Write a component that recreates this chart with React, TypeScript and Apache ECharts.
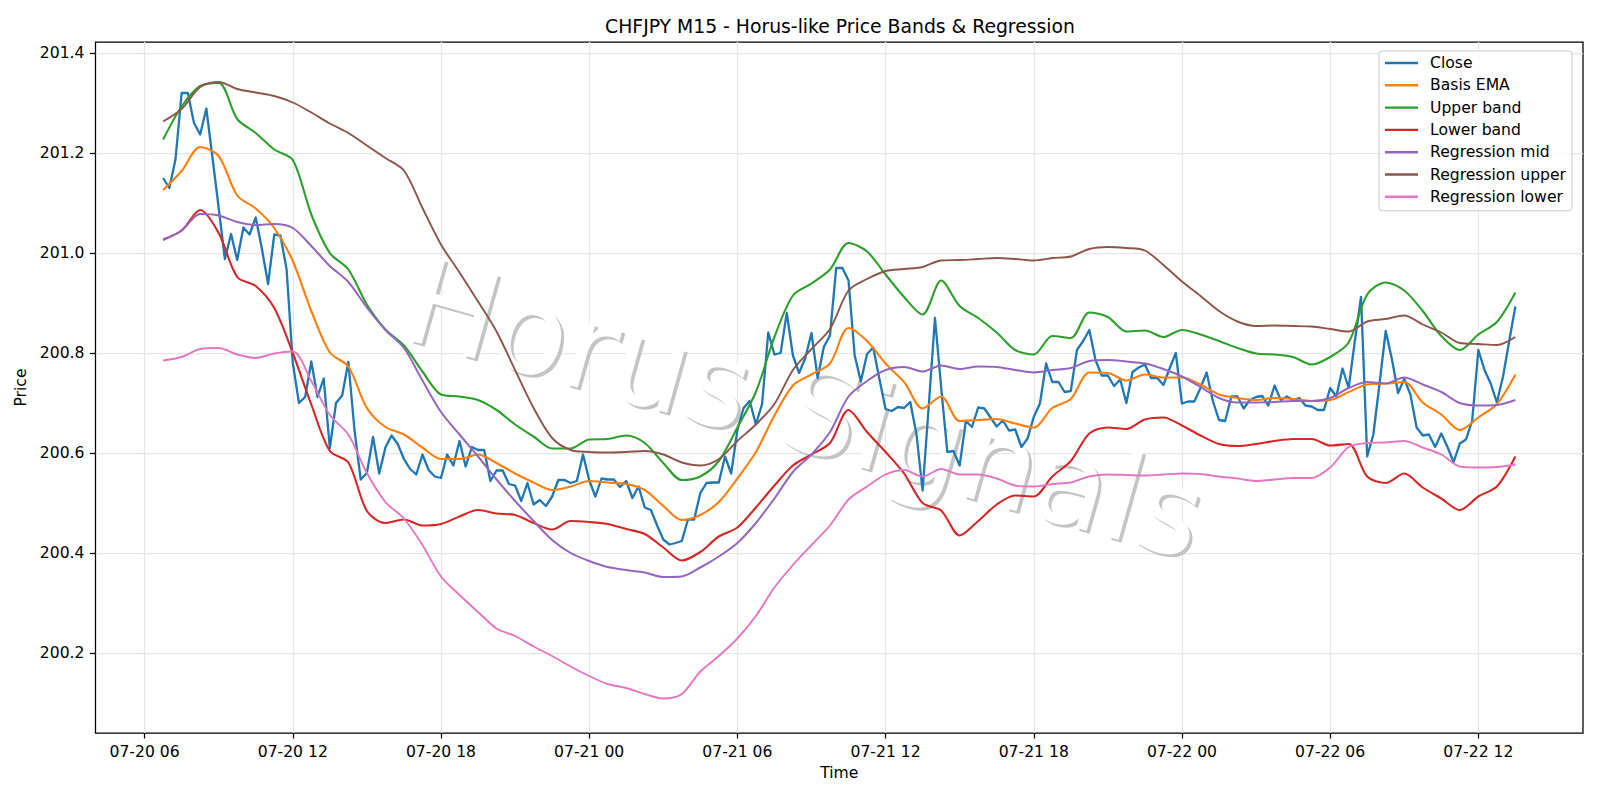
import { useEffect, useRef } from "react";
import * as echarts from "echarts";

const TITLE = "CHFJPY M15 - Horus-like Price Bands & Regression";
const WATERMARK = "Horus Signals";

// First M15 bar and sampling steps (minutes)
const FIRST_BAR = Date.UTC(2025, 6, 20, 6, 45);
const CLOSE_STEP_MIN = 15;
const BAND_STEP_MIN = 45;

// Close prices, one per 15-minute bar
const closeValues = [
  201.150, 201.130, 201.187, 201.320, 201.320, 201.260, 201.237, 201.289, 201.190, 201.090,
  200.988, 201.038, 200.986, 201.051, 201.037, 201.071, 201.008, 200.938, 201.037, 201.035,
  200.967, 200.780, 200.700, 200.712, 200.783, 200.712, 200.749, 200.610, 200.700, 200.715,
  200.782, 200.645, 200.547, 200.560, 200.632, 200.559, 200.611, 200.635, 200.618, 200.588,
  200.568, 200.557, 200.597, 200.566, 200.553, 200.550, 200.597, 200.575, 200.624, 200.573,
  200.612, 200.606, 200.606, 200.544, 200.565, 200.565, 200.538, 200.535, 200.504, 200.540,
  200.497, 200.506, 200.494, 200.513, 200.546, 200.546, 200.540, 200.544, 200.597, 200.546,
  200.513, 200.549, 200.547, 200.547, 200.532, 200.544, 200.510, 200.533, 200.491, 200.486,
  200.455, 200.427, 200.417, 200.420, 200.424, 200.467, 200.467, 200.520, 200.540, 200.541,
  200.541, 200.593, 200.559, 200.646, 200.690, 200.704, 200.657, 200.698, 200.841, 200.797,
  200.800, 200.880, 200.795, 200.760, 200.790, 200.840, 200.750, 200.812, 200.835, 200.970,
  200.970, 200.945, 200.795, 200.743, 200.798, 200.811, 200.748, 200.688, 200.684, 200.692,
  200.690, 200.702, 200.638, 200.525, 200.695, 200.870, 200.732, 200.602, 200.604, 200.575,
  200.664, 200.652, 200.691, 200.689, 200.671, 200.653, 200.665, 200.645, 200.647, 200.612,
  200.629, 200.672, 200.699, 200.779, 200.742, 200.742, 200.722, 200.724, 200.806, 200.824,
  200.846, 200.786, 200.755, 200.755, 200.734, 200.747, 200.700, 200.762, 200.771, 200.777,
  200.750, 200.750, 200.736, 200.769, 200.800, 200.699, 200.703, 200.703, 200.730, 200.761,
  200.704, 200.666, 200.664, 200.713, 200.713, 200.689, 200.706, 200.712, 200.714, 200.695,
  200.735, 200.706, 200.713, 200.706, 200.710, 200.695, 200.693, 200.686, 200.686, 200.730,
  200.713, 200.769, 200.730, 200.824, 200.912, 200.593, 200.637, 200.739, 200.844, 200.788,
  200.720, 200.748, 200.717, 200.651, 200.635, 200.637, 200.612, 200.639, 200.612, 200.582,
  200.619, 200.627, 200.664, 200.806, 200.766, 200.739, 200.701, 200.753, 200.824, 200.893,
];

// Indicator lines, one value every 45 minutes
const basisEma = [
  201.126, 201.164, 201.212, 201.194, 201.115, 201.089, 201.050, 200.984, 200.884, 200.801,
  200.773, 200.690, 200.652, 200.637, 200.611, 200.588, 200.588, 200.597, 200.580, 200.559,
  200.541, 200.526, 200.533, 200.544, 200.541, 200.538, 200.526, 200.494, 200.466, 200.476,
  200.502, 200.549, 200.602, 200.675, 200.735, 200.757, 200.779, 200.850, 200.824, 200.779,
  200.742, 200.689, 200.713, 200.664, 200.666, 200.668, 200.659, 200.651, 200.690, 200.708,
  200.761, 200.760, 200.745, 200.757, 200.751, 200.751, 200.737, 200.717, 200.710, 200.706,
  200.710, 200.708, 200.704, 200.706, 200.722, 200.737, 200.739, 200.742, 200.701, 200.677,
  200.646, 200.671, 200.698, 200.757,
];

const upperBand = [
  201.227, 201.293, 201.334, 201.340, 201.268, 201.240, 201.207, 201.186, 201.077, 201.000,
  200.967, 200.897, 200.847, 200.815, 200.763, 200.717, 200.713, 200.706, 200.686, 200.657,
  200.633, 200.609, 200.609, 200.627, 200.628, 200.635, 200.620, 200.580, 200.546, 200.553,
  200.584, 200.651, 200.722, 200.832, 200.915, 200.939, 200.967, 201.020, 201.003, 200.957,
  200.912, 200.877, 200.945, 200.894, 200.870, 200.841, 200.806, 200.797, 200.834, 200.830,
  200.881, 200.872, 200.843, 200.845, 200.832, 200.846, 200.837, 200.824, 200.810, 200.799,
  200.797, 200.792, 200.777, 200.792, 200.821, 200.917, 200.941, 200.925, 200.884, 200.834,
  200.806, 200.837, 200.862, 200.921,
];

const lowerBand = [
  201.027, 201.045, 201.086, 201.040, 200.952, 200.934, 200.890, 200.800, 200.697, 200.604,
  200.581, 200.484, 200.460, 200.467, 200.455, 200.458, 200.473, 200.486, 200.479, 200.476,
  200.460, 200.447, 200.464, 200.462, 200.458, 200.448, 200.438, 200.411, 200.385, 200.402,
  200.433, 200.451, 200.491, 200.535, 200.575, 200.597, 200.620, 200.686, 200.642, 200.602,
  200.559, 200.500, 200.485, 200.435, 200.464, 200.497, 200.515, 200.513, 200.553, 200.584,
  200.639, 200.651, 200.648, 200.667, 200.671, 200.655, 200.635, 200.618, 200.614, 200.618,
  200.624, 200.628, 200.628, 200.615, 200.618, 200.553, 200.540, 200.559, 200.531, 200.509,
  200.486, 200.513, 200.533, 200.593,
];

const regressionMid = [
  201.026, 201.045, 201.078, 201.075, 201.062, 201.056, 201.058, 201.050, 201.014, 200.974,
  200.942, 200.891, 200.846, 200.810, 200.745, 200.682, 200.637, 200.593, 200.547, 200.504,
  200.464, 200.426, 200.400, 200.384, 200.372, 200.366, 200.361, 200.352, 200.353, 200.371,
  200.393, 200.420, 200.460, 200.509, 200.562, 200.597, 200.642, 200.713, 200.744, 200.766,
  200.772, 200.763, 200.775, 200.768, 200.773, 200.772, 200.766, 200.761, 200.766, 200.770,
  200.784, 200.786, 200.783, 200.779, 200.768, 200.753, 200.732, 200.710, 200.701, 200.701,
  200.702, 200.704, 200.704, 200.710, 200.730, 200.742, 200.739, 200.751, 200.737, 200.722,
  200.700, 200.695, 200.696, 200.706,
];

const regressionUpper = [
  201.263, 201.288, 201.332, 201.342, 201.328, 201.321, 201.314, 201.301, 201.281, 201.259,
  201.240, 201.215, 201.190, 201.165, 201.090, 201.017, 200.961, 200.903, 200.843, 200.766,
  200.690, 200.630, 200.606, 200.602, 200.601, 200.602, 200.604, 200.597, 200.581, 200.575,
  200.588, 200.624, 200.657, 200.698, 200.766, 200.808, 200.848, 200.925, 200.948, 200.964,
  200.968, 200.972, 200.985, 200.986, 200.988, 200.990, 200.988, 200.985, 200.990, 200.993,
  201.008, 201.012, 201.010, 201.005, 200.976, 200.943, 200.914, 200.884, 200.863, 200.854,
  200.855, 200.854, 200.853, 200.848, 200.843, 200.863, 200.868, 200.875, 200.857, 200.841,
  200.820, 200.818, 200.816, 200.832,
];

const regressionLower = [
  200.785, 200.792, 200.808, 200.810, 200.797, 200.790, 200.799, 200.803, 200.744, 200.676,
  200.637, 200.560, 200.502, 200.469, 200.416, 200.353, 200.316, 200.282, 200.249, 200.234,
  200.213, 200.194, 200.173, 200.154, 200.138, 200.130, 200.118, 200.109, 200.118, 200.163,
  200.194, 200.229, 200.274, 200.331, 200.376, 200.416, 200.455, 200.507, 200.533, 200.557,
  200.566, 200.553, 200.568, 200.557, 200.557, 200.549, 200.535, 200.533, 200.538, 200.541,
  200.553, 200.557, 200.556, 200.555, 200.557, 200.559, 200.558, 200.553, 200.549, 200.544,
  200.547, 200.550, 200.550, 200.571, 200.612, 200.620, 200.621, 200.624, 200.611, 200.597,
  200.573, 200.571, 200.572, 200.577,
];

// Axis ticks
const xTickLabels = [
  "07-20 06", "07-20 12", "07-20 18", "07-21 00", "07-21 06",
  "07-21 12", "07-21 18", "07-22 00", "07-22 06", "07-22 12",
];
const yTickLabels = ["200.2", "200.4", "200.6", "200.8", "201.0", "201.2", "201.4"];
const Y_MIN = 200.04;
const Y_MAX = 201.422;

const FONT = '"DejaVu Sans", Verdana, sans-serif';
const MINUTE = 60 * 1000;

const parseTick = (s: string) => {
  const [md, hh] = s.split(" ");
  const [mm, dd] = md.split("-").map(Number);
  return Date.UTC(2025, mm - 1, dd, Number(hh), 0);
};

const pad = (n: number) => String(n).padStart(2, "0");
const formatTime = (v: number) => {
  const d = new Date(v);
  return `${pad(d.getUTCMonth() + 1)}-${pad(d.getUTCDate())} ${pad(d.getUTCHours())}`;
};

const toSeries = (values: number[], stepMin: number) =>
  values.map((v, i) => [FIRST_BAR + i * stepMin * MINUTE, v]);

const SERIES = [
  { name: "Close", values: closeValues, step: CLOSE_STEP_MIN, color: "#1f77b4", width: 2.3, smooth: 0 },
  { name: "Basis EMA", values: basisEma, step: BAND_STEP_MIN, color: "#ff7f0e", width: 2.1, smooth: 0.3 },
  { name: "Upper band", values: upperBand, step: BAND_STEP_MIN, color: "#2ca02c", width: 2.1, smooth: 0.3 },
  { name: "Lower band", values: lowerBand, step: BAND_STEP_MIN, color: "#d62728", width: 2.1, smooth: 0.3 },
  { name: "Regression mid", values: regressionMid, step: BAND_STEP_MIN, color: "#9467bd", width: 2.0, smooth: 0.3 },
  { name: "Regression upper", values: regressionUpper, step: BAND_STEP_MIN, color: "#8c564b", width: 1.9, smooth: 0.3 },
  { name: "Regression lower", values: regressionLower, step: BAND_STEP_MIN, color: "#e377c2", width: 1.9, smooth: 0.3 },
];

export default function App() {
  const ref = useRef<HTMLDivElement>(null);

  useEffect(() => {
    if (!ref.current) return;
    const chart = echarts.init(ref.current, undefined, { renderer: "svg" });

    const lastBar = FIRST_BAR + (closeValues.length - 1) * CLOSE_STEP_MIN * MINUTE;
    const span = lastBar - FIRST_BAR;
    const xMin = FIRST_BAR - span * 0.05;
    const xMax = lastBar + span * 0.05;

    const xTicks = xTickLabels.map(parseTick);
    const yTicks = yTickLabels.map(Number);

    const axisFont = { fontFamily: FONT, fontSize: 15.6, color: "#000" };
    const gridLine = { show: true, lineStyle: { color: "#e6e6e6", width: 1.25 } };
    const tilt = (-15.7 * Math.PI) / 180;
    const markStyle = {
      text: WATERMARK,
      fontFamily: FONT,
      fontSize: 120,
      align: "center",
      verticalAlign: "middle",
    };

    chart.setOption({
      animation: false,
      backgroundColor: "#ffffff",
      title: {
        text: TITLE,
        left: 840,
        top: 17,
        textAlign: "center",
        padding: 0,
        textStyle: { fontFamily: FONT, fontSize: 18.8, fontWeight: "normal", color: "#000" },
      },
      legend: {
        orient: "vertical",
        left: 1379,
        top: 51,
        padding: [4, 6, 6, 6],
        itemGap: 6.3,
        itemWidth: 33,
        itemHeight: 2.4,
        icon: "rect",
        backgroundColor: "rgba(255,255,255,0.8)",
        borderColor: "#cccccc",
        borderWidth: 1,
        borderRadius: 3,
        textStyle: { fontFamily: FONT, fontSize: 15.6, color: "#000", lineHeight: 16, padding: [0, 0, 0, 7] },
        data: SERIES.map((s) => s.name),
      },
      grid: {
        left: 95.5,
        right: 17,
        top: 42,
        bottom: 67,
        show: true,
        borderColor: "#000",
        borderWidth: 1.25,
        backgroundColor: "transparent",
      },
      xAxis: {
        type: "value",
        min: xMin,
        max: xMax,
        name: "Time",
        nameLocation: "middle",
        nameGap: 28,
        nameTextStyle: { ...axisFont, lineHeight: 16 },
        axisLine: { show: false },
        axisTick: { show: true, inside: false, length: 5.5, customValues: xTicks, lineStyle: { color: "#000", width: 1.25 } },
        axisLabel: { ...axisFont, margin: 11, customValues: xTicks, formatter: (v: number) => formatTime(v), hideOverlap: false },
        splitLine: gridLine,
      },
      yAxis: {
        type: "value",
        min: Y_MIN,
        max: Y_MAX,
        name: "Price",
        nameLocation: "middle",
        nameGap: 60,
        nameTextStyle: { ...axisFont, lineHeight: 16 },
        axisLine: { show: false },
        axisTick: { show: true, inside: false, length: 5.5, customValues: yTicks, lineStyle: { color: "#000", width: 1.25 } },
        axisLabel: { ...axisFont, margin: 11, customValues: yTicks, formatter: (v: number) => v.toFixed(1) },
        splitLine: gridLine,
      },
      graphic: [
        {
          type: "text",
          x: 808.5,
          y: 411.5,
          rotation: tilt,
          z: 1,
          silent: true,
          style: { ...markStyle, fill: "#c4c4c4" },
        },
        {
          type: "text",
          x: 805.5,
          y: 408.5,
          rotation: tilt,
          z: 1,
          silent: true,
          style: { ...markStyle, fill: "#ffffff" },
        },
      ],
      series: SERIES.map((s) => ({
        name: s.name,
        type: "line",
        data: toSeries(s.values, s.step),
        showSymbol: false,
        symbol: "none",
        smooth: s.smooth,
        z: 2,
        color: s.color,
        lineStyle: { color: s.color, width: s.width, join: "round", cap: "butt" },
      })),
    });

    return () => chart.dispose();
  }, []);

  return (
    <div
      ref={ref}
      style={{ position: "fixed", left: 0, top: 0, width: 1600, height: 800, background: "#fff" }}
    />
  );
}
